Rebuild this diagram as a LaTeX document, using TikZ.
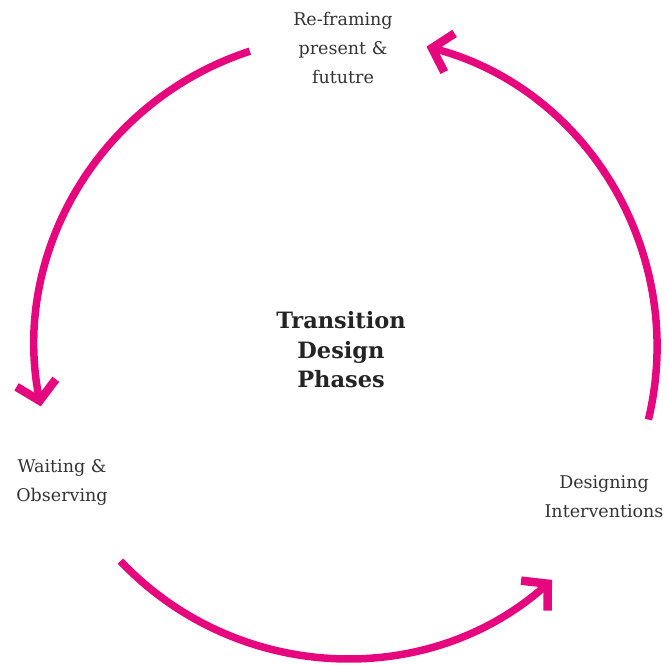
\documentclass[tikz,border=0pt]{standalone}
\usepackage{fontspec}
\setmainfont{DejaVu Serif}
\usetikzlibrary{arrows.meta}
\definecolor{mag}{HTML}{E6077F}
\definecolor{txt}{HTML}{333333}
\tikzset{
  cyc/.style={draw=mag, line width=7.5pt, line cap=butt,
    -{Straight Barb[length=18pt, width=40pt, line width=8.5pt]}},
  lbl/.style={text=txt, align=center, font=\fontsize{17.5}{29}\selectfont, inner sep=0pt},
  ttl/.style={text=txt!70!black, align=center, font=\bfseries\fontsize{22.5}{29.5}\selectfont, inner sep=0pt}
}
\begin{document}
\begin{tikzpicture}[x=1pt,y=-1pt]
\useasboundingbox (0,0) rectangle (668,664);
\coordinate (c) at (346,347);
\node[lbl] (top) at (343,48) {Re-framing\\present \&\\ fututre};
\node[ttl] (mid) at (341,350) {Transition\\Design\\Phases};
\node[lbl] (left) at (62,482) {Waiting \&\\Observing};
\node[lbl] (right) at (604,497) {Designing\\Interventions};
\draw[cyc] ([shift={(-108:311)}]c) arc[start angle=-108, end angle=-191, radius=311];
\draw[cyc] ([shift={(-223.5:311)}]c) arc[start angle=-223.5, end angle=-311.5, radius=311];
\draw[cyc] ([shift={(13.5:311)}]c) arc[start angle=13.5, end angle=-75, radius=311];
\end{tikzpicture}
\end{document}
